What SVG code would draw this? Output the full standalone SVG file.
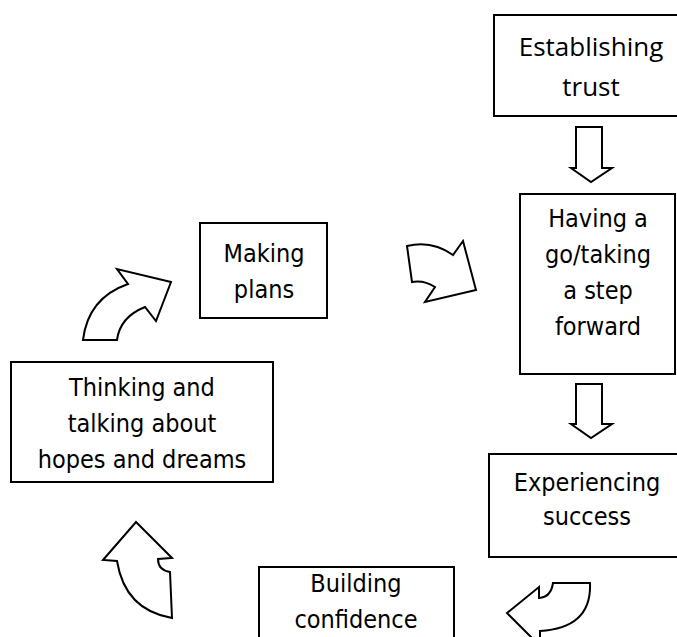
<svg xmlns="http://www.w3.org/2000/svg" width="677" height="637" viewBox="0 0 677 637">
  <style>
    .box { fill: #fff; stroke: #000; stroke-width: 2; }
    .arrow { fill: #fff; stroke: #000; stroke-width: 2; stroke-linejoin: miter; }
    .lbl { font-family: "DejaVu Sans Condensed", "DejaVu Sans", sans-serif; font-stretch: condensed; font-size: 25px; fill: #000; text-anchor: middle; }
    .lbl2 { font-family: "Open Sans", "Liberation Sans", sans-serif; font-size: 26px; fill: #000; text-anchor: middle; }
  </style>
  <rect width="677" height="637" fill="#fff"/>

  <g id="establishing-trust">
    <rect class="box" x="494" y="15" width="186" height="101"/>
    <text class="lbl2" x="591" y="56">Establishing</text>
    <text class="lbl2" x="591" y="96">trust</text>
  </g>

  <g id="having-a-go">
    <rect class="box" x="520" y="194" width="155" height="180"/>
    <text class="lbl" x="598" y="227">Having a</text>
    <text class="lbl" x="598" y="263">go/taking</text>
    <text class="lbl" x="598" y="299">a step</text>
    <text class="lbl" x="598" y="335">forward</text>
  </g>

  <g id="experiencing-success">
    <rect class="box" x="489" y="454" width="195" height="103"/>
    <text class="lbl" x="587" y="491">Experiencing</text>
    <text class="lbl" x="587" y="525">success</text>
  </g>

  <g id="building-confidence">
    <rect class="box" x="259" y="567" width="195" height="80"/>
    <text class="lbl" x="356" y="592">Building</text>
    <text class="lbl" x="356" y="628">confidence</text>
  </g>

  <g id="thinking-and-talking">
    <rect class="box" x="11" y="362" width="262" height="120"/>
    <text class="lbl" x="142" y="396">Thinking and</text>
    <text class="lbl" x="142" y="432">talking about</text>
    <text class="lbl" x="142" y="468">hopes and dreams</text>
  </g>

  <g id="making-plans">
    <rect class="box" x="200" y="223" width="127" height="95"/>
    <text class="lbl" x="264" y="262">Making</text>
    <text class="lbl" x="264" y="298">plans</text>
  </g>

  <g id="connectors">
    <!-- straight block arrows -->
    <path class="arrow" d="M576,127 H602 V168 H612 L591,182 L571,168 H576 Z"/>
    <path class="arrow" d="M576,384 H602 V424 H612 L591,438 L571,424 H576 Z"/>
    <!-- curved block arrow: Making plans to Having a go -->
    <path class="arrow" d="M407,246 Q432,240 453,255 L463,241 L476,290 L425,302 L435,287 Q424,280 412,282 Z"/>
    <!-- curved block arrow: Thinking to Making plans -->
    <path class="arrow" d="M83,340 H117 Q120,317 145,307 L156,321 L171,282 L117,269 L128,284 Q88,298 83,340 Z"/>
    <!-- curved block arrow: Building confidence to Thinking -->
    <path class="arrow" d="M136,522 L172,558 L158,559 Q158,570 170,572 L172,618 Q125,610 117,561 L103,560 Z"/>
    <!-- curved block arrow: Experiencing success to Building confidence -->
    <path class="arrow" d="M507,613 L539,587 V598 Q551,597 553,583 L590,583 Q592,628 540,631 V646 L539,645 Z"/>
  </g>
</svg>
